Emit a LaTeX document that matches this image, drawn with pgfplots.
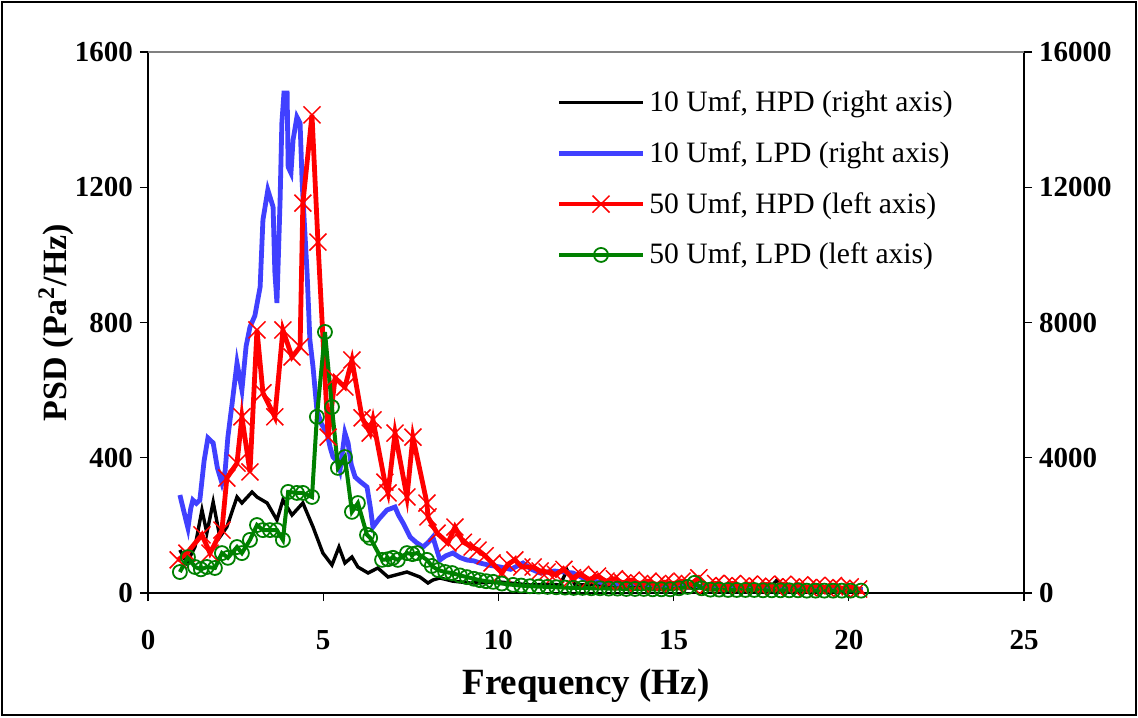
\documentclass[border=0pt]{standalone}
\usepackage{pgfplots}
\pgfplotsset{compat=1.18}
\usepackage{fontspec}
\setmainfont{Liberation Serif}
\definecolor{myblue}{RGB}{64,64,255}
\definecolor{mygreen}{RGB}{0,128,0}
\begin{document}
\begin{tikzpicture}
\useasboundingbox (-74pt,-62pt) rectangle (495pt,296.5pt);
\draw[line width=0.6pt] (-73pt,-61pt) rectangle (494pt,295.5pt);
\pgfplotsset{
  every axis/.append style={
    scale only axis, width=438pt, height=270.5pt,
    xmin=0, xmax=25, at={(0,0)}, anchor=south west,
    tick align=outside, major tick length=4pt,
    tick style={black, line width=0.6pt},
    axis line style={line width=0.6pt},
    /pgf/number format/assume math mode=true,
    /pgf/number format/1000 sep={},
    ticklabel style={font=\bfseries\fontsize{14.5}{16}\selectfont},
    scaled y ticks=false,
  },
}
% right axis
\begin{axis}[axis y line*=right, hide x axis, ymin=0, ymax=16000,
  ytick={0,4000,...,16000}]
\addplot[black, line width=1.7pt] coordinates {
(0.91,1272)(1.11,887)(1.34,1360)(1.54,2455)(1.68,1775)(1.86,2691)(2.05,1656)(2.25,1952)
(2.54,2839)(2.68,2662)(2.97,2987)(3.11,2839)(3.40,2662)(3.68,2159)(3.85,2750)(4.11,2307)
(4.42,2662)(4.71,1952)(4.99,1183)(5.25,828)(5.45,1360)(5.62,887)(5.82,1065)(5.99,769)
(6.28,592)(6.56,739)(6.85,473)(7.39,621)(7.76,473)(7.99,296)(8.13,384)(8.33,444)
(8.7,350)(9.19,296)(10.05,325)(10.9,237)(11.5,260)(11.76,237)(11.96,680)(12.19,237)
(12.8,250)(13.47,177)(14.2,200)(15.0,160)(15.75,148)(16.5,170)(17.2,150)(17.75,148)
(17.95,384)(18.18,148)(19.0,140)(19.8,130)(20.4,118)};
\addplot[myblue, line width=2.4pt] coordinates {
(0.91,2898)(1.05,2300)(1.14,1922)(1.22,2500)(1.28,2750)(1.38,2650)(1.48,2750)(1.60,3900)(1.71,4584)(1.86,4436)
(1.98,3700)(2.11,3253)(2.20,3600)(2.28,4614)(2.40,5600)
(2.54,6802)(2.68,6004)(2.80,7300)(2.91,7867)(3.05,8200)(3.20,9050)(3.28,11031)(3.42,11919)(3.57,11416)(3.62,9500)(3.68,8577)
(3.77,11623)(3.82,13900)(3.88,14788)(3.97,14788)(4.00,12599)(4.08,12422)(4.14,13398)(4.25,14078)
(4.34,13900)(4.40,12126)(4.54,9464)(4.62,7482)(4.71,6684)(4.82,5412)(4.95,5000)(5.11,4732)(5.20,4300)(5.28,4022)
(5.40,3900)(5.48,3638)(5.62,4732)(5.71,4436)(5.80,3800)(5.91,3431)(6.05,3300)(6.25,3135)(6.35,2500)(6.42,1952)(6.60,2200)(6.82,2455)(7.05,2543)
(7.15,2300)(7.28,2070)(7.48,1656)(7.65,1500)(7.85,1360)(8.0,1500)(8.13,1656)(8.33,976)(8.50,1100)(8.70,1183)(8.90,1050)(9.10,976)(9.30,950)(9.47,887)
(9.75,820)(10.05,769)(10.35,700)(10.70,887)(10.95,700)(11.19,592)(11.6,650)(12.13,592)(12.53,384)(13.0,300)(13.5,250)(14.0,280)
(14.5,220)(15.0,200)(15.5,250)(16.0,150)(16.5,170)(17.0,130)(17.5,140)(18.0,150)
(18.5,120)(19.0,110)(19.5,100)(20.0,90)(20.4,80)};
\end{axis}
% left axis
\begin{axis}[axis x line*=bottom, axis y line*=left, ymin=0, ymax=1600,
  ytick={0,400,...,1600}, xtick={0,5,...,25},
  xticklabel style={yshift=-11pt},
  xlabel={\bfseries Frequency (Hz)},
  ylabel={\bfseries PSD (Pa\textsuperscript{2}/Hz)},
  xlabel style={font=\bfseries\fontsize{18.5}{20}\selectfont, at={(axis description cs:0.5,-0.172)}, anchor=center},
  ylabel style={font=\bfseries\fontsize{17}{19}\selectfont, at={(axis description cs:-0.105,0.5)}, anchor=center},
  legend style={at={(axis description cs:0.466,0.937)}, anchor=north west,
    draw=none, fill=none, font=\fontsize{14.8}{17}\selectfont, row sep=9.5pt, inner sep=0pt},
  legend cell align=left,
  legend image code/.code={\draw[mark repeat=2,mark phase=2,#1] plot coordinates {(0pt,0pt) (21pt,0pt) (42pt,0pt)};},
]
\addlegendimage{black, line width=1.7pt}
\addlegendentry{10 Umf, HPD (right axis)}
\addlegendimage{myblue, line width=2.4pt}
\addlegendentry{10 Umf, LPD (right axis)}
\addplot[red, line width=2.4pt, mark=x, mark size=6pt, mark options={line width=0.75pt, solid}] coordinates {
(0.86,98)(1.11,118)(1.54,172)(1.77,118)(2.11,186)(2.25,340)(2.54,384)(2.68,521)(2.91,358)
(3.11,778)(3.28,592)(3.62,521)(3.85,778)(4.11,698)(4.34,728)(4.42,1153)(4.68,1414)(4.85,1038)
(5.14,461)(5.34,636)(5.62,609)(5.82,689)(6.11,518)(6.34,473)(6.42,512)(6.76,328)(6.85,296)
(7.05,473)(7.39,284)(7.56,461)(7.96,266)(7.99,225)(8.25,177)(8.56,148)(8.76,195)(9.0,150)
(9.25,136)(9.42,127)(9.62,110)(9.82,89)(10.10,59)(10.27,85)(10.47,98)(10.67,77)(10.99,77)
(11.19,65)(11.39,62)(11.63,55)(11.87,70)(12.11,45)(12.35,55)(12.59,40)(12.83,50)(13.07,35)
(13.31,42)(13.55,30)(13.79,38)(14.03,28)(14.27,35)(14.51,25)(14.75,32)(15.00,28)(15.24,35)
(15.48,25)(15.72,45)(15.96,20)(16.20,28)(16.44,22)(16.68,28)(16.92,20)(17.16,26)(17.40,20)
(17.64,25)(17.88,18)(18.12,26)(18.36,18)(18.60,24)(18.84,16)(19.08,22)(19.32,16)(19.56,22)
(19.80,14)(20.04,18)(20.28,12)(20.40,-5)};
\addlegendentry{50 Umf, HPD (left axis)}
\addplot[mygreen, line width=2pt, mark=o, mark size=3.5pt, mark options={line width=0.9pt, solid}] coordinates {
(0.91,62)(1.14,106)(1.34,77)(1.51,70)(1.68,77)(1.91,74)(2.11,118)(2.28,104)(2.54,136)
(2.68,118)(2.91,157)(3.11,201)(3.28,186)(3.48,186)(3.68,186)(3.85,157)(4.00,299)(4.25,296)
(4.42,296)(4.68,284)(4.82,521)(5.05,772)(5.25,550)(5.42,370)(5.62,402)(5.82,240)(5.99,266)
(6.25,172)(6.34,163)(6.68,98)(6.85,100)(6.99,104)(7.13,98)(7.39,118)(7.55,115)(7.68,118)
(7.96,98)(8.1,80)(8.28,68)(8.48,62)(8.68,59)(8.9,52)(9.10,47)(9.3,42)(9.47,38)(9.65,35)
(9.85,33)(10.1,28)(10.42,24)(10.65,22)(10.9,20)(11.15,19)(11.4,18)(11.65,17)(11.9,16)
(12.15,15)(12.4,15)(12.65,14)(12.9,14)(13.15,13)(13.4,13)(13.65,12)(13.9,12)(14.15,12)
(14.4,11)(14.65,11)(14.9,11)(15.15,14)(15.4,18)(15.6,30)(15.8,14)(16.05,10)(16.3,10)
(16.55,9)(16.8,9)(17.05,9)(17.3,9)(17.55,8)(17.8,8)(18.05,8)(18.3,8)(18.55,8)(18.8,7)
(19.05,7)(19.3,7)(19.55,7)(19.8,7)(20.05,7)(20.35,7)};
\addlegendentry{50 Umf, LPD (left axis)}
\draw[gray, line width=0.6pt] (rel axis cs:0,1) -- (rel axis cs:1,1);
\end{axis}
\end{tikzpicture}
\end{document}
